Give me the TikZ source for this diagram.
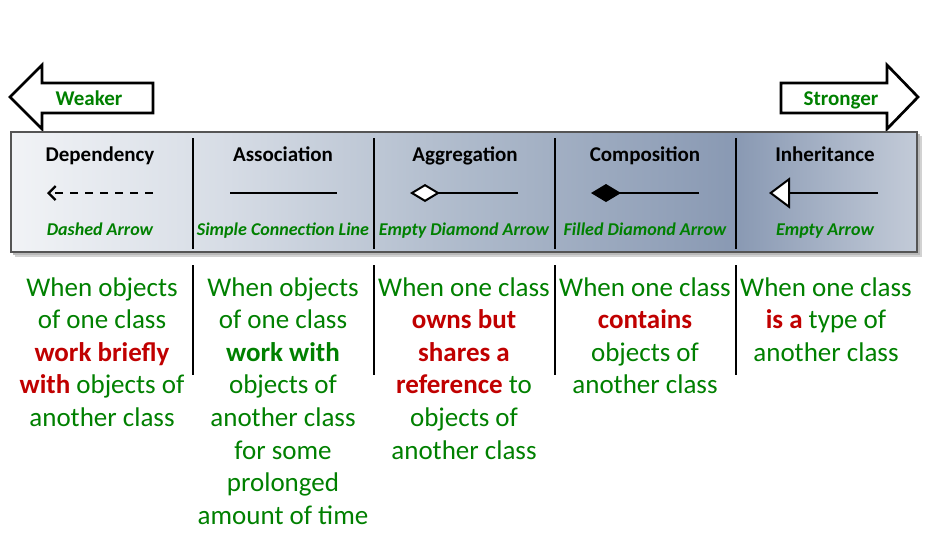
\documentclass[tikz,border=0pt]{standalone}
\usepackage{fontspec}
\setmainfont{Carlito}
\usetikzlibrary{arrows.meta}
\definecolor{tgreen}{RGB}{0,128,0}
\definecolor{tred}{RGB}{192,0,0}
\definecolor{sh1}{HTML}{F1F3F6}
\definecolor{sh2}{HTML}{D6DCE5}
\definecolor{sh3}{HTML}{AEBACB}
\definecolor{sh4}{HTML}{8999B3}
\definecolor{sh5}{HTML}{C3CBD8}
\definecolor{boxline}{HTML}{555555}
\pgfdeclarehorizontalshading{boxshade}{100bp}{color(0bp)=(sh1); color(25bp)=(sh1); color(37bp)=(sh2); color(50bp)=(sh3); color(65bp)=(sh4); color(75bp)=(sh5); color(100bp)=(sh5)}
\begin{document}
\begin{tikzpicture}[x=1pt,y=-1pt,
  body/.style={font=\fontsize{27}{32}\selectfont, text=tgreen, inner sep=0pt, anchor=base},
  head/.style={font=\fontsize{21}{24}\selectfont\bfseries, inner sep=0pt, anchor=base},
  lab/.style={font=\fontsize{18}{22}\selectfont\bfseries\itshape, text=tgreen, inner sep=0pt, anchor=base},
  dir/.style={font=\fontsize{21}{24}\selectfont\bfseries, text=tgreen, inner sep=0pt, anchor=base},
  bigarrow/.style={draw=black, line width=2.7pt, fill=white, line join=miter},
  divider/.style={draw=black, line width=2.5pt},
  sym/.style={draw=black, line width=2pt}]
\useasboundingbox (0,0) rectangle (947,550);

% top block arrows
\draw[bigarrow] (10,97) -- (42,65) -- (42,83) -- (153,83) -- (153,113) -- (42,113) -- (42,129) -- cycle;
\node[dir] (weaker) at (89,105) {Weaker};
\draw[bigarrow] (918,97) -- (887,65) -- (887,83) -- (781,83) -- (781,113) -- (887,113) -- (887,129) -- cycle;
\node[dir] (stronger) at (841,105) {Stronger};

% shadow and box
\fill[gray!35] (15,136) rectangle (922,257);
\fill[gray!55] (13,134) rectangle (920,255);
\path[shading=boxshade, draw=boxline, line width=2pt] (11,132) rectangle (917,252);

% dividers
\foreach \x in {193,374,555,736} {
  \draw[divider] (\x,138) -- (\x,249);
  \draw[divider] (\x,265) -- (\x,375);
}

% headers
\node[head] (h1) at (100,161) {Dependency};
\node[head] (h2) at (283,161) {Association};
\node[head] (h3) at (465,161) {Aggregation};
\node[head] (h4) at (645,161) {Composition};
\node[head] (h5) at (825,161) {Inheritance};

% labels
\node[lab] (l1) at (100,235) {Dashed Arrow};
\node[lab] (l2) at (283,235) {Simple Connection Line};
\node[lab] (l3) at (464,235) {Empty Diamond Arrow};
\node[lab] (l4) at (645,235) {Filled Diamond Arrow};
\node[lab] (l5) at (825,235) {Empty Arrow};

% symbols
\coordinate (d1) at (153,193); \coordinate (d2) at (47,193);
\draw[sym, dash pattern=on 8pt off 7pt, -{Straight Barb[length=7pt,width=14pt,line width=2.3pt]}] (d1) -- (d2);
\coordinate (a1) at (230,193); \coordinate (a2) at (337,193);
\draw[sym] (a1) -- (a2);
\coordinate (g1) at (518,193); \coordinate (g2) at (410,193);
\draw[sym, -{Diamond[length=30pt,width=18pt,open,fill=white,line width=2pt]}] (g1) -- (g2);
\coordinate (c1) at (699,193); \coordinate (c2) at (591,193);
\draw[sym, -{Diamond[length=30pt,width=18pt,fill=black,line width=2pt]}] (c1) -- (c2);
\coordinate (i1) at (878,193); \coordinate (i2) at (769,193);
\draw[sym, -{Triangle[length=21pt,width=31pt,open,fill=white,line width=2pt]}] (i1) -- (i2);

% descriptions
\foreach \t [count=\i] in {When objects, of one class, {\bfseries\color{tred}work briefly}, {{\bfseries\color{tred}with} objects of}, another class}
  \node[body] (p1-\i) at (102,{296+32.6*(\i-1)}) {\t};
\foreach \t [count=\i] in {When objects, of one class, {\bfseries work with}, objects of, another class, for some, prolonged, amount of time}
  \node[body] (p2-\i) at (283,{296+32.6*(\i-1)}) {\t};
\foreach \t [count=\i] in {When one class, {\bfseries\color{tred}owns but}, {\bfseries\color{tred}shares a}, {{\bfseries\color{tred}reference} to}, objects of, another class}
  \node[body] (p3-\i) at (464,{296+32.6*(\i-1)}) {\t};
\foreach \t [count=\i] in {When one class, {\bfseries\color{tred}contains}, objects of, another class}
  \node[body] (p4-\i) at (645,{296+32.6*(\i-1)}) {\t};
\foreach \t [count=\i] in {When one class, {{\bfseries\color{tred}is a} type of}, another class}
  \node[body] (p5-\i) at (826,{296+32.6*(\i-1)}) {\t};
\end{tikzpicture}
\end{document}
